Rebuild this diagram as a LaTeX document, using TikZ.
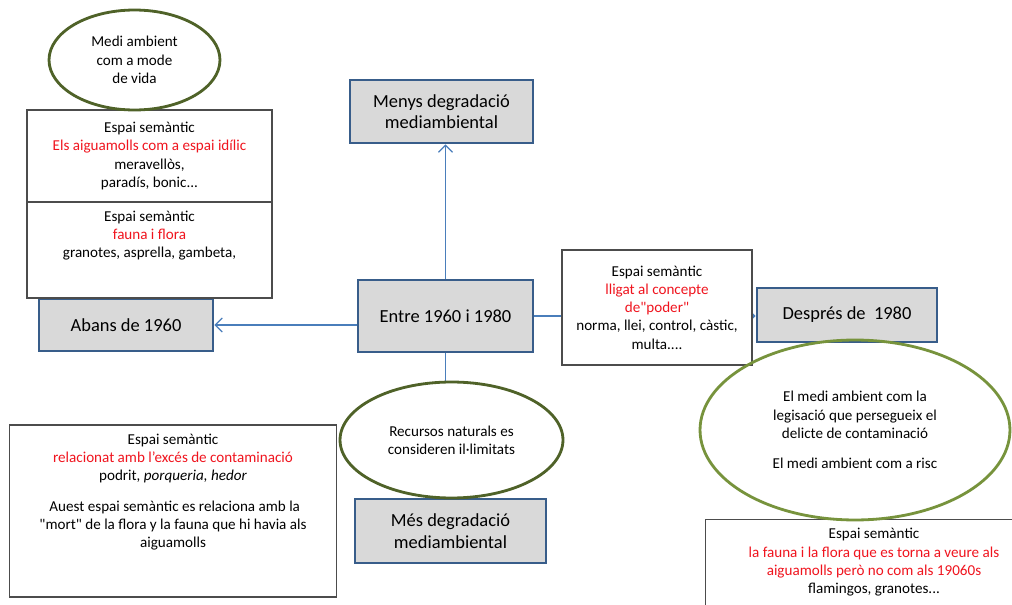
\documentclass[tikz,border=0pt]{standalone}
\usepackage{fontspec}
\setmainfont{Carlito}
\usetikzlibrary{shapes.geometric,arrows.meta}
\definecolor{boxblue}{RGB}{56,93,138}
\definecolor{boxgray}{RGB}{217,217,217}
\definecolor{darkolive}{RGB}{79,98,40}
\definecolor{lightolive}{RGB}{119,147,60}
\definecolor{lineblue}{RGB}{74,126,187}
\definecolor{semred}{RGB}{240,20,30}
\newcommand{\smalltxt}{\fontsize{8.6}{10.4}\selectfont}
\newcommand{\bigtxt}{\fontsize{10.5}{12.3}\selectfont}
\newcommand{\vermell}[1]{\textcolor{semred}{#1}}
\newcommand{\cometa}{\textquotedbl}
\tikzset{
  periode/.style={rectangle, draw=boxblue, line width=1.6pt, fill=boxgray,
    align=center, font=\bigtxt, inner sep=0pt},
  espai/.style={rectangle, draw=black!70, line width=0.6pt, fill=white,
    align=center, font=\smalltxt},
  idea/.style={ellipse, draw=darkolive, line width=1.6pt, fill=white,
    align=center, font=\smalltxt, inner sep=0pt},
  conn/.style={draw=lineblue, line width=0.7pt},
  fletxa/.style={conn, -{Straight Barb[length=4pt,width=8pt]}}
}
\begin{document}
\begin{tikzpicture}[x=0.02cm, y=-0.02cm]
      \clip (0,0) rectangle (1012,605);
      \fill[white] (0,0) rectangle (1012,605);
      % periodes
      \node[periode, minimum width=3.66cm, minimum height=1.26cm] (menys) at (441.5,111.5)
        {Menys degradació\\mediambiental};
      \node[periode, minimum width=3.5cm, minimum height=1.44cm] (entre) at (445.5,316)
        {Entre 1960 i 1980};
      \node[periode, minimum width=3.48cm, minimum height=1.04cm] (abans) at (126,325)
        {Abans de 1960};
      \node[periode, minimum width=3.6cm, minimum height=1.08cm] (despres) at (847,315)
        {Després de \ 1980};
      % connectors
      \draw[fletxa] (entre.north) -- (entre.north |- menys.south);
      \draw[fletxa] (entre.west |- abans.east) -- (abans.east);
      \draw[fletxa] (entre.east) -- (entre.east -| despres.west);
      \draw[conn] (entre.south) -- (entre.south |- 0,382);
      % espais semantics
      \node[espai, minimum width=4.9cm, minimum height=1.84cm] (idil) at (149.5,156)
        {Espai semàntic\\\vermell{Els aiguamolls com a espai idílic}\\meravellòs,\\paradís, bonic...};
      \node[espai, inner sep=0pt, minimum width=4.9cm, minimum height=1.92cm] (flora) at (149.5,250)
        {\parbox[c][1.92cm][t]{4.8cm}{\centering\vspace*{5pt}Espai semàntic\\
          \vermell{fauna i flora}\\granotes, asprella, gambeta,}};
      \node[espai, minimum width=3.8cm, minimum height=2.3cm] (poder) at (657,307.5)
        {Espai semàntic\\\vermell{lligat al concepte}\\\vermell{de\cometa poder\cometa}\\
          norma, llei, control, càstic,\\multa....};
      \node[espai, inner sep=0pt, minimum width=6.56cm, minimum height=3.44cm] (contam) at (173,511)
        {\parbox[c][3.44cm][t]{6.4cm}{\centering\vspace*{5pt}Espai semàntic\\
          \vermell{relacionat amb l'excés de contaminació}\\podrit\textit{, porqueria, hedor}\\[0.8em]
          \ Auest espai semàntic es relaciona amb la\\\cometa mort\cometa{} de la flora y la fauna que hi havia als\\aiguamolls}};
      \node[espai, inner sep=0pt, anchor=north, minimum width=6.76cm, minimum height=2.4cm] (flamencs) at (874,519)
        {\parbox[c][2.4cm][t]{6.6cm}{\centering\vspace*{5pt}Espai semàntic\\
          \vermell{la fauna i la flora que es torna a veure als}\\
          \vermell{aiguamolls però no com als 19060s}\\flamingos, granotes...}};
      \node[periode, minimum width=3.82cm, minimum height=1.28cm] (mes) at (450.5,531)
        {Més degradació\\mediambiental};
      % idees
      \node[idea, minimum width=3.42cm, minimum height=2.0cm] (vida) at (134.5,60)
        {Medi ambient\\com a mode\\de vida};
      \node[idea, minimum width=4.46cm, minimum height=2.32cm] (recursos) at (451.5,440)
        {Recursos naturals es\\consideren il·limitats};
      \node[idea, draw=lightolive, fill=none, minimum width=6.2cm, minimum height=3.6cm] (risc) at (855,430)
        {El medi ambient com la\\legisació que persegueix el\\delicte de contaminació\\[0.8em]
          El medi ambient com a risc};
    \end{tikzpicture}
\end{document}
